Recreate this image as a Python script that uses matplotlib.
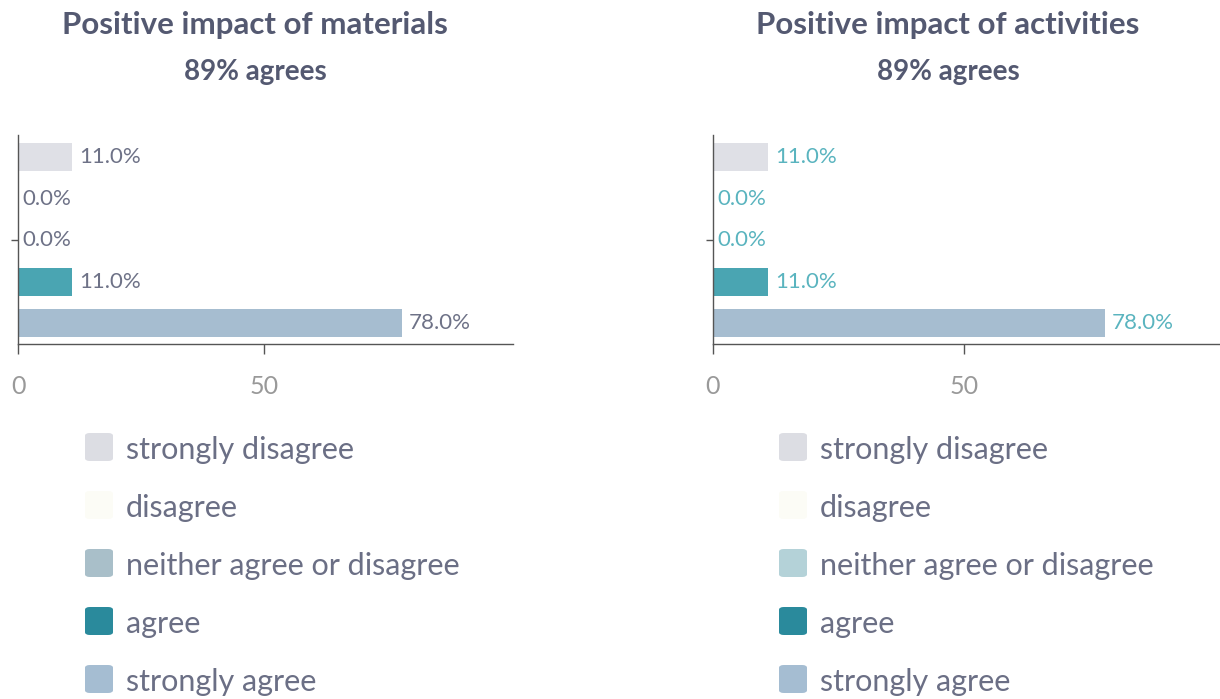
import matplotlib
matplotlib.use("Agg")
import matplotlib.pyplot as plt
from matplotlib.patches import FancyBboxPatch

plt.rcParams['font.family'] = ['Lato', 'DejaVu Sans']

categories = ["strongly disagree", "disagree", "neither agree or disagree", "agree", "strongly agree"]
materials_pct = [11.0, 0.0, 0.0, 11.0, 78.0]
activities_pct = [11.0, 0.0, 0.0, 11.0, 78.0]

titles = ["Positive impact of materials", "Positive impact of activities"]
subtitles = ["89% agrees", "89% agrees"]

bar_colors = ["#dfe0e6", "#fdfdf8", "#b4cdd5", "#4aa5b2", "#a6bdd0"]
legend_colors_left = ["#dcdde3", "#fcfcf6", "#a9bfc9", "#2a8a9c", "#a5bdd2"]
legend_colors_right = ["#dcdde3", "#fcfcf6", "#b4d2d8", "#2a8a9c", "#a5bdd2"]
value_colors = ["#6e7287", "#5ab4bf"]

W, H = 1220, 699
fig = plt.figure(figsize=(W / 100, H / 100), dpi=100)

title_color = "#545971"
text_color = "#6b6f85"

panels = [
    # axes left/right px, xmax, title centre px, legend square px, legend text px
    (18, 513, 100.6, 255, 85, 126, materials_pct, legend_colors_left),
    (713, 1220, 101.0, 948, 779, 820, activities_pct, legend_colors_right),
]

for i, (x0, x1, xmax, tc, sq_x, tx, vals, leg_cols) in enumerate(panels):
    ax = fig.add_axes([x0 / W, 1 - 344 / H, (x1 - x0) / W, 209 / H])
    ypos = list(range(len(categories)))
    ax.barh(ypos, vals, height=0.67, color=bar_colors)
    for y, v in zip(ypos, vals):
        ax.annotate(f"{v:.1f}%", (v, y), xytext=(5 if v > 0 else 3, 0),
                    textcoords="offset points", va="center", ha="left",
                    fontsize=16, color=value_colors[i])
    ax.set_xlim(0, xmax)
    ax.set_ylim(4.5, -0.53)
    ax.set_xticks([0, 50])
    ax.set_yticks([2])
    ax.set_yticklabels([""])
    for s in ["top", "right"]:
        ax.spines[s].set_visible(False)
    for s in ["left", "bottom"]:
        ax.spines[s].set_color("#555555")
        ax.spines[s].set_linewidth(1)
    ax.tick_params(axis="x", length=7, width=1, color="#555555", pad=15,
                   labelsize=18, labelcolor="#999999")
    ax.tick_params(axis="y", length=5, width=1, color="#555555")

    fig.text(tc / W, 1 - 25 / H, titles[i], ha="center", va="center",
             fontsize=22.5, fontweight="bold", color=title_color)
    fig.text(tc / W, 1 - 72 / H, subtitles[i], ha="center", va="center",
             fontsize=20, fontweight="bold", color=title_color)

    # legend rows
    for k, (cat, col) in enumerate(zip(categories, leg_cols)):
        cy = 447 + 58 * k
        box = FancyBboxPatch((sq_x / W, 1 - (cy + 14) / H), 28 / W, 28 / H,
                             boxstyle="round,pad=0,rounding_size=0.004",
                             transform=fig.transFigure, facecolor=col,
                             edgecolor="none")
        fig.add_artist(box)
        fig.text(tx / W, 1 - (cy + 3) / H, cat, ha="left", va="center",
                 fontsize=22, color=text_color)

fig.savefig("out.png", dpi=100)
